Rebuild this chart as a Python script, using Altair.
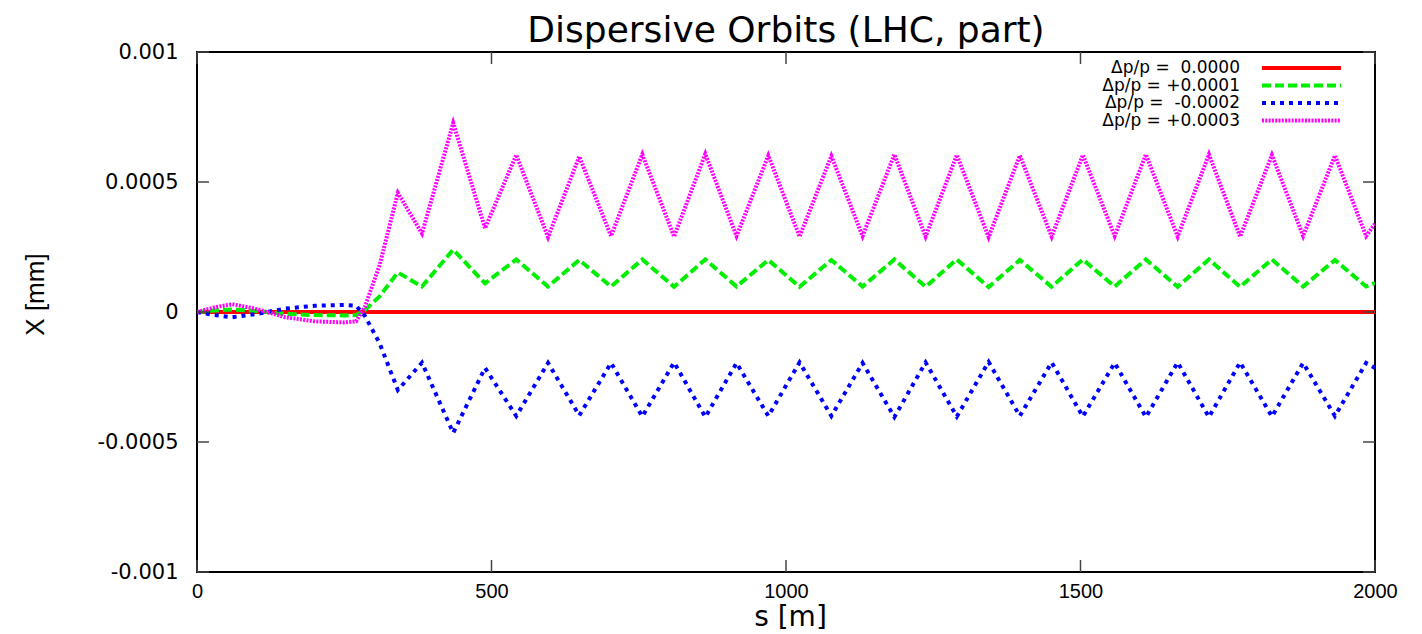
import altair as alt
import pandas as pd

# ---------------- data ----------------
s_m = [0, 30, 60, 100, 150, 200, 250, 270, 285, 310,
       341, 382, 435, 489, 542, 596, 649, 703, 756, 810,
       863, 916, 970, 1023, 1077, 1130, 1184, 1237, 1290, 1344,
       1397, 1451, 1504, 1558, 1611, 1665, 1718, 1771, 1825, 1878,
       1932, 1985, 2000]

x_dp_0000 = [0.0, 0.0, 0.0, 0.0, 0.0, 0.0, 0.0, 0.0, 0.0, 0.0,
             0.0, 0.0, 0.0, 0.0, 0.0, 0.0, 0.0, 0.0, 0.0, 0.0,
             0.0, 0.0, 0.0, 0.0, 0.0, 0.0, 0.0, 0.0, 0.0, 0.0,
             0.0, 0.0, 0.0, 0.0, 0.0, 0.0, 0.0, 0.0, 0.0, 0.0,
             0.0, 0.0, 0.0]

x_dp_p0001 = [0.0, 0.000006, 0.00001, 0.000004, -0.000007, -0.000012, -0.000013, -0.000012, 0.000007, 0.00006,
              0.000152, 0.000098, 0.000240, 0.000110, 0.000202, 0.000098, 0.000200, 0.000098, 0.000202, 0.000097,
              0.000202, 0.000098, 0.000200, 0.000097, 0.000200, 0.000098, 0.000202, 0.000097, 0.000202, 0.000096,
              0.000200, 0.000097, 0.000202, 0.000098, 0.000202, 0.000097, 0.000202, 0.000097, 0.000202, 0.000098,
              0.000200, 0.000098, 0.000112]

x_dp_m0002 = [0.0, -0.000012, -0.00002, -0.000008, 0.000013, 0.000024, 0.000027, 0.000024, -0.000015, -0.00012,
              -0.000300, -0.000195, -0.000465, -0.000215, -0.000400, -0.000196, -0.000398, -0.000196, -0.000402, -0.000194,
              -0.000404, -0.000196, -0.000400, -0.000194, -0.000400, -0.000196, -0.000404, -0.000194, -0.000402, -0.000192,
              -0.000400, -0.000194, -0.000402, -0.000196, -0.000404, -0.000194, -0.000404, -0.000194, -0.000402, -0.000196,
              -0.000400, -0.000196, -0.000215]

x_dp_p0003 = [0.0, 0.000018, 0.00003, 0.000012, -0.00002, -0.000036, -0.00004, -0.000036, 0.00002, 0.00018,
              0.000458, 0.000302, 0.000727, 0.000322, 0.000604, 0.000288, 0.000598, 0.000292, 0.000606, 0.000290,
              0.000608, 0.000292, 0.000602, 0.000290, 0.000600, 0.000292, 0.000606, 0.000290, 0.000604, 0.000288,
              0.000602, 0.000290, 0.000604, 0.000292, 0.000606, 0.000290, 0.000606, 0.000290, 0.000604, 0.000292,
              0.000602, 0.000292, 0.000340]

series_labels = ["\u0394p/p =\u00a0\u00a00.0000",
                 "\u0394p/p = +0.0001",
                 "\u0394p/p =\u00a0\u00a0-0.0002",
                 "\u0394p/p = +0.0003"]
series_values = [x_dp_0000, x_dp_p0001, x_dp_m0002, x_dp_p0003]
series_colors = ["#ff0000", "#00ee00", "#0000ff", "#ff00ff"]
series_dashes = [[1, 0], [9, 4], [4, 5], [2, 1.3]]

title_text = "Dispersive Orbits (LHC, part)"
x_ticks = [0, 500, 1000, 1500, 2000]
y_ticks = [-0.001, -0.0005, 0, 0.0005, 0.001]

# ---------------- chart ----------------
W, H = 1178, 520

xscale = alt.Scale(domain=[0, 2000], nice=False, zero=False)
yscale = alt.Scale(domain=[-0.001, 0.001], nice=False, zero=False)

x_axis = alt.Axis(values=x_ticks, tickSize=0, domain=False, grid=False,
                  labelFont="Liberation Sans", labelFontSize=20, labelPadding=9,
                  labelColor="black", labelFlush=False, labelExpr="toString(datum.value)",
                  title="s [m]", titleFont="DejaVu Sans", titleFontSize=28,
                  titleFontWeight="normal", titleColor="black",
                  titleX=593, titleY=53, titleBaseline="alphabetic")
y_axis = alt.Axis(values=y_ticks, tickSize=0, domain=False, grid=False,
                  labelFont="DejaVu Sans", labelFontSize=21, labelPadding=19,
                  labelColor="black", labelExpr="toString(datum.value)",
                  title="X [mm]", titleFont="Liberation Sans Narrow, Liberation Sans",
                  titleFontSize=26, titleFontWeight="normal", titleColor="black",
                  titleX=-162, titleY=242, titleBaseline="middle", titleAngle=-90)

layers = []
for lab, vals, col, dash in zip(series_labels, series_values, series_colors, series_dashes):
    df = pd.DataFrame({"s": s_m, "x": vals})
    layers.append(
        alt.Chart(df).mark_line(color=col, strokeWidth=4, strokeDash=dash, clip=True).encode(
            x=alt.X("s:Q", scale=xscale, axis=x_axis),
            y=alt.Y("x:Q", scale=yscale, axis=y_axis),
        )
    )

# inward ticks on all four sides (gnuplot style)
yt = pd.DataFrame({"x": y_ticks})
xt = pd.DataFrame({"s": x_ticks})
tick_style = dict(color="#444444", strokeWidth=1.5)
layers.append(alt.Chart(yt).mark_rule(**tick_style).encode(
    y=alt.Y("x:Q", scale=yscale, axis=y_axis), x=alt.value(0), x2=alt.value(12)))
layers.append(alt.Chart(yt).mark_rule(**tick_style).encode(
    y=alt.Y("x:Q", scale=yscale, axis=y_axis), x=alt.value(W - 12), x2=alt.value(W)))
layers.append(alt.Chart(xt).mark_rule(**tick_style).encode(
    x=alt.X("s:Q", scale=xscale, axis=x_axis), y=alt.value(H - 12), y2=alt.value(H)))
layers.append(alt.Chart(xt).mark_rule(**tick_style).encode(
    x=alt.X("s:Q", scale=xscale, axis=x_axis), y=alt.value(0), y2=alt.value(12)))

# gnuplot-like key (text right-aligned, sample line to its right)
for i, (lab, col, dash) in enumerate(zip(series_labels, series_colors, series_dashes)):
    ypx = 16 + 17.5 * i
    kd = pd.DataFrame({"label": [lab]})
    layers.append(alt.Chart(kd).mark_text(align="right", baseline="middle",
                                          font="DejaVu Sans", fontSize=17, color="black").encode(
        text="label:N", x=alt.value(1043), y=alt.value(ypx)))
    layers.append(alt.Chart(kd).mark_rule(color=col, strokeWidth=4, strokeDash=dash).encode(
        x=alt.value(1065), x2=alt.value(1144), y=alt.value(ypx)))

# title as a text mark so it sits exactly above the frame
td = pd.DataFrame({"t": [title_text]})
layers.append(alt.Chart(td).mark_text(align="center", baseline="alphabetic",
                                      font="DejaVu Sans", fontSize=36, color="black").encode(
    text="t:N", x=alt.value(W / 2), y=alt.value(-10)))

chart = alt.layer(*layers).properties(
    width=W, height=H,
    background="white",
    autosize=alt.AutoSizeParams(type="none"),
    padding={"left": 189, "top": 44, "right": 30, "bottom": 60},
).configure_view(stroke="black", strokeWidth=2)

chart.save("out.html", embed_options={"renderer": "svg", "actions": False})
